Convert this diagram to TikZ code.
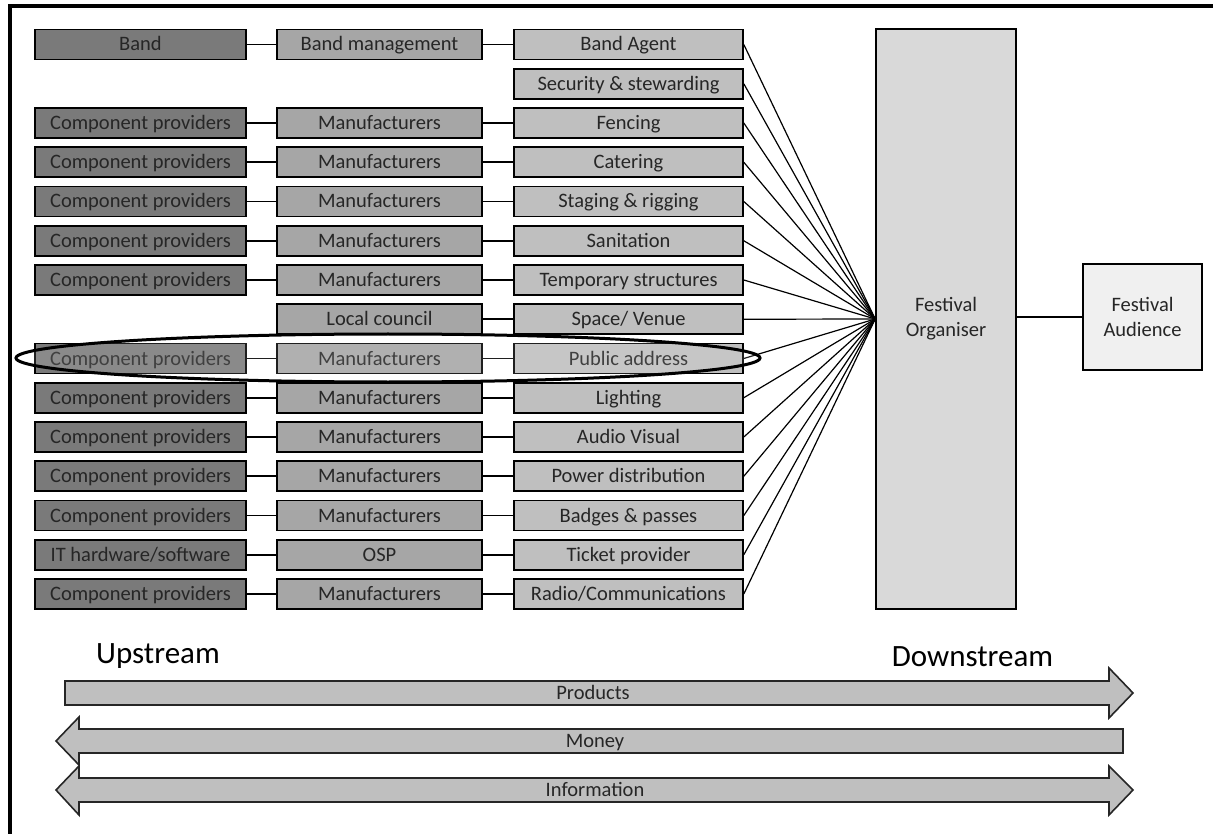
\documentclass[tikz,border=0pt]{standalone}
\usepackage{fontspec}
\setmainfont{Carlito}
\definecolor{txt}{HTML}{262626}
\definecolor{gA}{HTML}{7A7A7A}
\definecolor{gB}{HTML}{A6A6A6}
\definecolor{gC}{HTML}{BFBFBF}
\definecolor{gD}{HTML}{D9D9D9}
\definecolor{gE}{HTML}{F0F0F0}
\begin{document}
\begin{tikzpicture}[x=1pt,y=-1pt,
  box/.style={draw=black, line width=1.6pt, minimum height=30pt, inner sep=0pt,
    text height=16pt, text depth=3pt,
    font=\fontsize{20.5}{24}\selectfont, text=txt},
  colA/.style={box, fill=gA, minimum width=211pt},
  colB/.style={box, fill=gB, minimum width=205pt},
  colC/.style={box, fill=gC, minimum width=229pt},
  bigbox/.style={draw=black, line width=1.6pt, inner sep=0pt, align=center,
    font=\fontsize{20.5}{25}\selectfont, text=txt},
  link/.style={draw=black, line width=1.6pt},
  fan/.style={draw=black, line width=1.2pt},
  flow/.style={draw=txt, fill=gC, line width=1.6pt, line join=miter},
  flowlabel/.style={font=\fontsize{20.5}{24}\selectfont, text=txt,
    text height=16pt, text depth=3pt, inner sep=0pt},
  streamlabel/.style={font=\fontsize{31}{36}\selectfont, text=black}]

\useasboundingbox (0,0) rectangle (1213,834);

% frame on the left and top
\draw[line width=4pt] (9.5,834) -- (9.5,6.5) -- (1213,6.5);

% third column: direct suppliers of the organiser
\node[colC] (c1)  at (628.5,44.5)   {Band Agent};
\node[colC] (c2)  at (628.5,83.75)  {Security \& stewarding};
\node[colC] (c3)  at (628.5,123)    {Fencing};
\node[colC] (c4)  at (628.5,162.25) {Catering};
\node[colC] (c5)  at (628.5,201.5)  {Staging \& rigging};
\node[colC] (c6)  at (628.5,240.75) {Sanitation};
\node[colC] (c7)  at (628.5,280)    {Temporary structures};
\node[colC] (c8)  at (628.5,319.25) {Space/ Venue};
\node[colC] (c9)  at (628.5,358.5)  {Public address};
\node[colC] (c10) at (628.5,397.75) {Lighting};
\node[colC] (c11) at (628.5,437)    {Audio Visual};
\node[colC] (c12) at (628.5,476.25) {Power distribution};
\node[colC] (c13) at (628.5,515.5)  {Badges \& passes};
\node[colC] (c14) at (628.5,554.75) {Ticket provider};
\node[colC] (c15) at (628.5,594)    {Radio/Communications};

% second column
\node[colB] (b1)  at (379.5,44.5)   {Band management};
\node[colB] (b3)  at (379.5,123)    {Manufacturers};
\node[colB] (b4)  at (379.5,162.25) {Manufacturers};
\node[colB] (b5)  at (379.5,201.5)  {Manufacturers};
\node[colB] (b6)  at (379.5,240.75) {Manufacturers};
\node[colB] (b7)  at (379.5,280)    {Manufacturers};
\node[colB] (b8)  at (379.5,319.25) {Local council};
\node[colB] (b9)  at (379.5,358.5)  {Manufacturers};
\node[colB] (b10) at (379.5,397.75) {Manufacturers};
\node[colB] (b11) at (379.5,437)    {Manufacturers};
\node[colB] (b12) at (379.5,476.25) {Manufacturers};
\node[colB] (b13) at (379.5,515.5)  {Manufacturers};
\node[colB] (b14) at (379.5,554.75) {OSP};
\node[colB] (b15) at (379.5,594)    {Manufacturers};

% first column
\node[colA] (a1)  at (140.5,44.5)   {Band};
\node[colA] (a3)  at (140.5,123)    {Component providers};
\node[colA] (a4)  at (140.5,162.25) {Component providers};
\node[colA] (a5)  at (140.5,201.5)  {Component providers};
\node[colA] (a6)  at (140.5,240.75) {Component providers};
\node[colA] (a7)  at (140.5,280)    {Component providers};
\node[colA] (a9)  at (140.5,358.5)  {Component providers};
\node[colA] (a10) at (140.5,397.75) {Component providers};
\node[colA] (a11) at (140.5,437)    {Component providers};
\node[colA] (a12) at (140.5,476.25) {Component providers};
\node[colA] (a13) at (140.5,515.5)  {Component providers};
\node[colA] (a14) at (140.5,554.75) {IT hardware/software};
\node[colA] (a15) at (140.5,594)    {Component providers};

% chain links between the columns
\foreach \i in {1,3,4,5,6,7,9,10,11,12,13,14,15}
  \draw[link] (a\i) -- (b\i);
\foreach \i in {1,3,4,5,6,7,8,9,10,11,12,13,14,15}
  \draw[link] (b\i) -- (c\i);

% organiser and audience
\node[bigbox, fill=gD, minimum width=140pt, minimum height=580pt] (org)
  at (946,319) {Festival\\Organiser};
\node[bigbox, fill=gE, minimum width=119pt, minimum height=106pt] (aud)
  at (1142.5,317) {Festival\\Audience};
\draw[link] (aud.west -| org.east) -- (aud.west);

% every supplier feeds the organiser
\foreach \i in {1,...,15}
  \draw[fan] (c\i.east) -- (org.west);

% highlighted chain
\draw[line width=3pt, fill=white, fill opacity=0.12] (388,358) ellipse [x radius=372, y radius=24];

% flows along the chain
\node[streamlabel] (up) at (158,656) {Upstream};
\node[streamlabel] (down) at (972.5,657) {Downstream};

\draw[flow] (65,681) -- (1109,681) -- (1109,668) -- (1133,693) -- (1109,718)
  -- (1109,705) -- (65,705) -- cycle;
\node[flowlabel] (prod) at (593,693) {Products};

\draw[flow] (1123,729) -- (79,729) -- (79,717) -- (56,741) -- (79,765)
  -- (79,753) -- (1123,753) -- cycle;
\node[flowlabel] (money) at (595,741) {Money};

\draw[flow] (79,778) -- (1109,778) -- (1109,766) -- (1133,790) -- (1109,815)
  -- (1109,802) -- (79,802) -- (79,815) -- (56,790) -- (79,766) -- cycle;
\node[flowlabel] (info) at (595,790) {Information};

\end{tikzpicture}
\end{document}
